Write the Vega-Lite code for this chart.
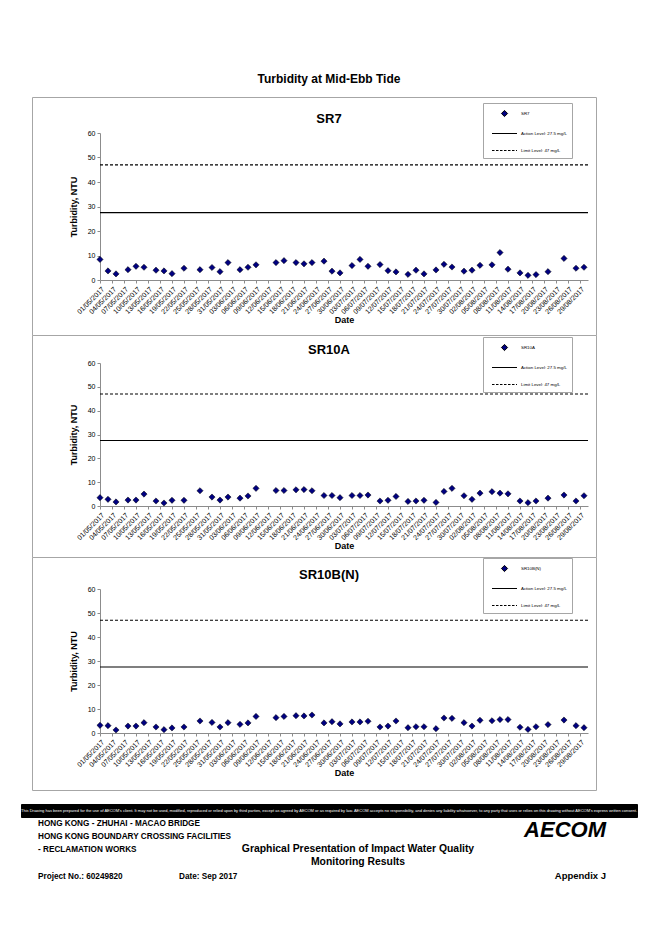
{
  "$schema": "https://vega.github.io/schema/vega-lite/v6.json",
  "padding": {"left": 20, "top": 72, "right": 0, "bottom": 0},
  "title": {"text": "Turbidity at Mid-Ebb Tide", "anchor": "middle", "offset": 11, "fontSize": 12, "fontWeight": "bold", "font": "Liberation Sans", "color": "black"},
  "config": {
    "view": {"stroke": null},
    "font": "Liberation Sans",
    "title": {"font": "Liberation Sans", "color": "black", "fontWeight": "bold"},
    "axis": {"labelFont": "Liberation Sans", "labelFontSize": 7, "labelColor": "black", "domainColor": "#8c8c8c", "tickColor": "#8c8c8c", "tickSize": 3, "grid": false, "titleFont": "Liberation Sans", "titleFontSize": 9, "titleFontWeight": "bold", "titleColor": "black", "labelPadding": 2, "labelOverlap": false}
  },
  "datasets": {
    "wq": [
      {"date":"2017-05-01","SR7":8.4,"SR10A":3.5,"SR10B(N)":3.2},
      {"date":"2017-05-03","SR7":3.7,"SR10A":2.8,"SR10B(N)":3.05},
      {"date":"2017-05-05","SR7":2.5,"SR10A":1.7,"SR10B(N)":1.25},
      {"date":"2017-05-08","SR7":4.2,"SR10A":2.5,"SR10B(N)":2.9},
      {"date":"2017-05-10","SR7":5.6,"SR10A":2.5,"SR10B(N)":2.9},
      {"date":"2017-05-12","SR7":5.2,"SR10A":5.0,"SR10B(N)":4.3},
      {"date":"2017-05-15","SR7":4.0,"SR10A":2.1,"SR10B(N)":2.5},
      {"date":"2017-05-17","SR7":3.7,"SR10A":1.25,"SR10B(N)":1.4},
      {"date":"2017-05-19","SR7":2.6,"SR10A":2.4,"SR10B(N)":2.1},
      {"date":"2017-05-22","SR7":4.8,"SR10A":2.4,"SR10B(N)":2.5},
      {"date":"2017-05-26","SR7":4.2,"SR10A":6.4,"SR10B(N)":5.0},
      {"date":"2017-05-29","SR7":5.1,"SR10A":3.75,"SR10B(N)":4.4},
      {"date":"2017-05-31","SR7":3.4,"SR10A":2.5,"SR10B(N)":2.5},
      {"date":"2017-06-02","SR7":7.1,"SR10A":3.75,"SR10B(N)":4.3},
      {"date":"2017-06-05","SR7":4.2,"SR10A":3.3,"SR10B(N)":3.6},
      {"date":"2017-06-07","SR7":5.2,"SR10A":4.2,"SR10B(N)":4.2},
      {"date":"2017-06-09","SR7":6.2,"SR10A":7.4,"SR10B(N)":6.9},
      {"date":"2017-06-14","SR7":7.1,"SR10A":6.5,"SR10B(N)":6.4},
      {"date":"2017-06-16","SR7":7.9,"SR10A":6.5,"SR10B(N)":6.9},
      {"date":"2017-06-19","SR7":7.1,"SR10A":6.8,"SR10B(N)":7.2},
      {"date":"2017-06-21","SR7":6.6,"SR10A":6.9,"SR10B(N)":7.1},
      {"date":"2017-06-23","SR7":7.1,"SR10A":6.4,"SR10B(N)":7.5},
      {"date":"2017-06-26","SR7":7.7,"SR10A":4.4,"SR10B(N)":4.2},
      {"date":"2017-06-28","SR7":3.6,"SR10A":4.4,"SR10B(N)":4.7},
      {"date":"2017-06-30","SR7":2.9,"SR10A":3.5,"SR10B(N)":3.8},
      {"date":"2017-07-03","SR7":5.9,"SR10A":4.4,"SR10B(N)":4.6},
      {"date":"2017-07-05","SR7":8.4,"SR10A":4.4,"SR10B(N)":4.6},
      {"date":"2017-07-07","SR7":5.6,"SR10A":4.6,"SR10B(N)":4.9},
      {"date":"2017-07-10","SR7":6.3,"SR10A":2.1,"SR10B(N)":2.5},
      {"date":"2017-07-12","SR7":3.8,"SR10A":2.4,"SR10B(N)":2.9},
      {"date":"2017-07-14","SR7":3.3,"SR10A":4.0,"SR10B(N)":5.0},
      {"date":"2017-07-17","SR7":2.3,"SR10A":1.9,"SR10B(N)":2.2},
      {"date":"2017-07-19","SR7":4.0,"SR10A":2.1,"SR10B(N)":2.6},
      {"date":"2017-07-21","SR7":2.5,"SR10A":2.4,"SR10B(N)":2.6},
      {"date":"2017-07-24","SR7":4.1,"SR10A":1.5,"SR10B(N)":1.8},
      {"date":"2017-07-26","SR7":6.4,"SR10A":6.1,"SR10B(N)":6.25},
      {"date":"2017-07-28","SR7":5.3,"SR10A":7.4,"SR10B(N)":6.1},
      {"date":"2017-07-31","SR7":3.6,"SR10A":4.3,"SR10B(N)":4.3},
      {"date":"2017-08-02","SR7":4.0,"SR10A":2.8,"SR10B(N)":2.9},
      {"date":"2017-08-04","SR7":6.0,"SR10A":5.4,"SR10B(N)":5.3},
      {"date":"2017-08-07","SR7":6.2,"SR10A":6.0,"SR10B(N)":5.1},
      {"date":"2017-08-09","SR7":11.2,"SR10A":5.4,"SR10B(N)":5.6},
      {"date":"2017-08-11","SR7":4.4,"SR10A":5.1,"SR10B(N)":5.6},
      {"date":"2017-08-14","SR7":2.9,"SR10A":2.1,"SR10B(N)":2.4},
      {"date":"2017-08-16","SR7":1.9,"SR10A":1.4,"SR10B(N)":1.5},
      {"date":"2017-08-18","SR7":2.2,"SR10A":2.1,"SR10B(N)":2.6},
      {"date":"2017-08-21","SR7":3.4,"SR10A":3.3,"SR10B(N)":3.5},
      {"date":"2017-08-25","SR7":8.8,"SR10A":4.6,"SR10B(N)":5.4},
      {"date":"2017-08-28","SR7":4.8,"SR10A":2.1,"SR10B(N)":3.05},
      {"date":"2017-08-30","SR7":5.2,"SR10A":4.3,"SR10B(N)":2.2}
    ],
    "levels": [
      {"level": "Action", "turbidity": 27.5, "date": "2017-05-01"},
      {"level": "Action", "turbidity": 27.5, "date": "2017-08-31"},
      {"level": "Limit", "turbidity": 47, "date": "2017-05-01"},
      {"level": "Limit", "turbidity": 47, "date": "2017-08-31"}
    ]
  },
  "spacing": 12,
  "vconcat": [
    {
      "spacing": 9,
      "hconcat": [
        {"width": 1, "height": 1, "data": {"values": []}, "mark": {"type": "point"}, "encoding": {}},
        {
          "spacing": 0,
          "bounds": "flush",
          "resolve": {"scale": {"shape": "independent"}, "legend": {"shape": "independent"}},
          "vconcat": [
            {
              "width": 564, "height": 238,
              "view": {"stroke": "#a6a6a6", "fill": "white"},
              "title": {"text": "SR7", "frame": "group", "anchor": "middle", "offset": -29.4, "dx": 15, "fontSize": 13},
              "layer": [
                {
                  "data": {"name": "levels"},
                  "mark": {"type": "line", "color": "black", "strokeWidth": 1.1},
                  "encoding": {
                    "x": {"field": "date", "type": "temporal", "title": "Date"},
                    "y": {"field": "turbidity", "type": "quantitative", "title": "Turbidity, NTU"},
                    "strokeDash": {"field": "level", "type": "nominal", "scale": {"domain": ["Action", "Limit"], "range": [[1, 0], [3, 2]]}, "legend": null}
                  }
                },
                {
                  "data": {"name": "wq"},
                  "transform": [{"fold": ["SR7"], "as": ["station", "turbidity"]}],
                  "mark": {"type": "point", "filled": true, "fill": "#000080", "stroke": "black", "strokeWidth": 0.5, "opacity": 1, "size": 100},
                  "encoding": {
                    "x": {"field": "date", "type": "temporal", "title": "Date",
                      "scale": {"type": "utc", "domain": [{"year": 2017, "month": 5, "date": 1, "utc": true}, {"year": 2017, "month": 8, "date": 31, "utc": true}], "range": [68, 556], "nice": false},
                      "axis": {"orient": "bottom", "offset": -55, "format": "%d/%m/%Y", "labelAngle": -45, "labelOverlap": false, "labelFlush": false, "titlePadding": 1, "tickCount": 41,
                        "values": [{"year":2017,"month":5,"date":1,"utc":true},{"year":2017,"month":5,"date":4,"utc":true},{"year":2017,"month":5,"date":7,"utc":true},{"year":2017,"month":5,"date":10,"utc":true},{"year":2017,"month":5,"date":13,"utc":true},{"year":2017,"month":5,"date":16,"utc":true},{"year":2017,"month":5,"date":19,"utc":true},{"year":2017,"month":5,"date":22,"utc":true},{"year":2017,"month":5,"date":25,"utc":true},{"year":2017,"month":5,"date":28,"utc":true},{"year":2017,"month":5,"date":31,"utc":true},{"year":2017,"month":6,"date":3,"utc":true},{"year":2017,"month":6,"date":6,"utc":true},{"year":2017,"month":6,"date":9,"utc":true},{"year":2017,"month":6,"date":12,"utc":true},{"year":2017,"month":6,"date":15,"utc":true},{"year":2017,"month":6,"date":18,"utc":true},{"year":2017,"month":6,"date":21,"utc":true},{"year":2017,"month":6,"date":24,"utc":true},{"year":2017,"month":6,"date":27,"utc":true},{"year":2017,"month":6,"date":30,"utc":true},{"year":2017,"month":7,"date":3,"utc":true},{"year":2017,"month":7,"date":6,"utc":true},{"year":2017,"month":7,"date":9,"utc":true},{"year":2017,"month":7,"date":12,"utc":true},{"year":2017,"month":7,"date":15,"utc":true},{"year":2017,"month":7,"date":18,"utc":true},{"year":2017,"month":7,"date":21,"utc":true},{"year":2017,"month":7,"date":24,"utc":true},{"year":2017,"month":7,"date":27,"utc":true},{"year":2017,"month":7,"date":30,"utc":true},{"year":2017,"month":8,"date":2,"utc":true},{"year":2017,"month":8,"date":5,"utc":true},{"year":2017,"month":8,"date":8,"utc":true},{"year":2017,"month":8,"date":11,"utc":true},{"year":2017,"month":8,"date":14,"utc":true},{"year":2017,"month":8,"date":17,"utc":true},{"year":2017,"month":8,"date":20,"utc":true},{"year":2017,"month":8,"date":23,"utc":true},{"year":2017,"month":8,"date":26,"utc":true},{"year":2017,"month":8,"date":29,"utc":true}]}},
                    "y": {"field": "turbidity", "type": "quantitative", "title": "Turbidity, NTU",
                      "scale": {"domain": [0, 60], "range": [183, 36], "nice": false, "zero": false},
                      "axis": {"orient": "left", "offset": -68, "values": [0, 10, 20, 30, 40, 50, 60], "tickCount": 7, "format": "d", "titlePadding": 9, "labelOverlap": false}},
                    "shape": {"field": "station", "type": "nominal",
                      "scale": {"domain": ["SR7", "Action Level: 27.5 mg/L", "Limit Level: 47 mg/L"], "range": ["M0,-0.62L0.62,0L0,0.62L-0.62,0Z", "M-2.5,0L2.5,0", "M-2.5,0L-2,0M-1.7,0L-1.2,0M-0.9,0L-0.4,0M-0.1,0L0.4,0M0.7,0L1.2,0M1.5,0L2,0M2.3,0L2.5,0"]},
                      "legend": {"title": null, "orient": "none", "legendX": 451, "legendY": 6, "padding": 5, "symbolSize": 100, "symbolOffset": 11, "labelOffset": 11, "rowPadding": 9, "labelFontSize": 4.4, "labelFont": "Liberation Sans", "labelColor": "black", "strokeColor": "#a6a6a6", "fillColor": "white", "symbolStrokeWidth": 1}}
                  }
                }
              ]
            },
            {
              "width": 564, "height": 222,
              "view": {"stroke": "#a6a6a6", "fill": "white"},
              "title": {"text": "SR10A", "frame": "group", "anchor": "middle", "offset": -22.4, "dx": 15, "fontSize": 13},
              "layer": [
                {
                  "data": {"name": "levels"},
                  "mark": {"type": "line", "color": "black", "strokeWidth": 1.1},
                  "encoding": {
                    "x": {"field": "date", "type": "temporal", "title": "Date"},
                    "y": {"field": "turbidity", "type": "quantitative", "title": "Turbidity, NTU"},
                    "strokeDash": {"field": "level", "type": "nominal", "scale": {"domain": ["Action", "Limit"], "range": [[1, 0], [3, 2]]}, "legend": null}
                  }
                },
                {
                  "data": {"name": "wq"},
                  "transform": [{"fold": ["SR10A"], "as": ["station", "turbidity"]}],
                  "mark": {"type": "point", "filled": true, "fill": "#000080", "stroke": "black", "strokeWidth": 0.5, "opacity": 1, "size": 100},
                  "encoding": {
                    "x": {"field": "date", "type": "temporal", "title": "Date",
                      "scale": {"type": "utc", "domain": [{"year": 2017, "month": 5, "date": 1, "utc": true}, {"year": 2017, "month": 8, "date": 31, "utc": true}], "range": [68, 556], "nice": false},
                      "axis": {"orient": "bottom", "offset": -51, "format": "%d/%m/%Y", "labelAngle": -45, "labelOverlap": false, "labelFlush": false, "titlePadding": 1, "tickCount": 41,
                        "values": [{"year":2017,"month":5,"date":1,"utc":true},{"year":2017,"month":5,"date":4,"utc":true},{"year":2017,"month":5,"date":7,"utc":true},{"year":2017,"month":5,"date":10,"utc":true},{"year":2017,"month":5,"date":13,"utc":true},{"year":2017,"month":5,"date":16,"utc":true},{"year":2017,"month":5,"date":19,"utc":true},{"year":2017,"month":5,"date":22,"utc":true},{"year":2017,"month":5,"date":25,"utc":true},{"year":2017,"month":5,"date":28,"utc":true},{"year":2017,"month":5,"date":31,"utc":true},{"year":2017,"month":6,"date":3,"utc":true},{"year":2017,"month":6,"date":6,"utc":true},{"year":2017,"month":6,"date":9,"utc":true},{"year":2017,"month":6,"date":12,"utc":true},{"year":2017,"month":6,"date":15,"utc":true},{"year":2017,"month":6,"date":18,"utc":true},{"year":2017,"month":6,"date":21,"utc":true},{"year":2017,"month":6,"date":24,"utc":true},{"year":2017,"month":6,"date":27,"utc":true},{"year":2017,"month":6,"date":30,"utc":true},{"year":2017,"month":7,"date":3,"utc":true},{"year":2017,"month":7,"date":6,"utc":true},{"year":2017,"month":7,"date":9,"utc":true},{"year":2017,"month":7,"date":12,"utc":true},{"year":2017,"month":7,"date":15,"utc":true},{"year":2017,"month":7,"date":18,"utc":true},{"year":2017,"month":7,"date":21,"utc":true},{"year":2017,"month":7,"date":24,"utc":true},{"year":2017,"month":7,"date":27,"utc":true},{"year":2017,"month":7,"date":30,"utc":true},{"year":2017,"month":8,"date":2,"utc":true},{"year":2017,"month":8,"date":5,"utc":true},{"year":2017,"month":8,"date":8,"utc":true},{"year":2017,"month":8,"date":11,"utc":true},{"year":2017,"month":8,"date":14,"utc":true},{"year":2017,"month":8,"date":17,"utc":true},{"year":2017,"month":8,"date":20,"utc":true},{"year":2017,"month":8,"date":23,"utc":true},{"year":2017,"month":8,"date":26,"utc":true},{"year":2017,"month":8,"date":29,"utc":true}]}},
                    "y": {"field": "turbidity", "type": "quantitative", "title": "Turbidity, NTU",
                      "scale": {"domain": [0, 60], "range": [171, 28], "nice": false, "zero": false},
                      "axis": {"orient": "left", "offset": -68, "values": [0, 10, 20, 30, 40, 50, 60], "tickCount": 7, "format": "d", "titlePadding": 9, "labelOverlap": false}},
                    "shape": {"field": "station", "type": "nominal",
                      "scale": {"domain": ["SR10A", "Action Level: 27.5 mg/L", "Limit Level: 47 mg/L"], "range": ["M0,-0.62L0.62,0L0,0.62L-0.62,0Z", "M-2.5,0L2.5,0", "M-2.5,0L-2,0M-1.7,0L-1.2,0M-0.9,0L-0.4,0M-0.1,0L0.4,0M0.7,0L1.2,0M1.5,0L2,0M2.3,0L2.5,0"]},
                      "legend": {"title": null, "orient": "none", "legendX": 451, "legendY": 2, "padding": 5, "symbolSize": 100, "symbolOffset": 11, "labelOffset": 11, "rowPadding": 9, "labelFontSize": 4.4, "labelFont": "Liberation Sans", "labelColor": "black", "strokeColor": "#a6a6a6", "fillColor": "white", "symbolStrokeWidth": 1}}
                  }
                }
              ]
            },
            {
              "width": 564, "height": 233,
              "view": {"stroke": "#a6a6a6", "fill": "white"},
              "title": {"text": "SR10B(N)", "frame": "group", "anchor": "middle", "offset": -25.4, "dx": 15, "fontSize": 13},
              "layer": [
                {
                  "data": {"name": "levels"},
                  "mark": {"type": "line", "color": "black", "strokeWidth": 1.1},
                  "encoding": {
                    "x": {"field": "date", "type": "temporal", "title": "Date"},
                    "y": {"field": "turbidity", "type": "quantitative", "title": "Turbidity, NTU"},
                    "strokeDash": {"field": "level", "type": "nominal", "scale": {"domain": ["Action", "Limit"], "range": [[1, 0], [3, 2]]}, "legend": null}
                  }
                },
                {
                  "data": {"name": "wq"},
                  "transform": [{"fold": ["SR10B(N)"], "as": ["station", "turbidity"]}],
                  "mark": {"type": "point", "filled": true, "fill": "#000080", "stroke": "black", "strokeWidth": 0.5, "opacity": 1, "size": 100},
                  "encoding": {
                    "x": {"field": "date", "type": "temporal", "title": "Date",
                      "scale": {"type": "utc", "domain": [{"year": 2017, "month": 5, "date": 1, "utc": true}, {"year": 2017, "month": 8, "date": 31, "utc": true}], "range": [68, 556], "nice": false},
                      "axis": {"orient": "bottom", "offset": -57, "format": "%d/%m/%Y", "labelAngle": -45, "labelOverlap": false, "labelFlush": false, "titlePadding": 1, "tickCount": 41,
                        "values": [{"year":2017,"month":5,"date":1,"utc":true},{"year":2017,"month":5,"date":4,"utc":true},{"year":2017,"month":5,"date":7,"utc":true},{"year":2017,"month":5,"date":10,"utc":true},{"year":2017,"month":5,"date":13,"utc":true},{"year":2017,"month":5,"date":16,"utc":true},{"year":2017,"month":5,"date":19,"utc":true},{"year":2017,"month":5,"date":22,"utc":true},{"year":2017,"month":5,"date":25,"utc":true},{"year":2017,"month":5,"date":28,"utc":true},{"year":2017,"month":5,"date":31,"utc":true},{"year":2017,"month":6,"date":3,"utc":true},{"year":2017,"month":6,"date":6,"utc":true},{"year":2017,"month":6,"date":9,"utc":true},{"year":2017,"month":6,"date":12,"utc":true},{"year":2017,"month":6,"date":15,"utc":true},{"year":2017,"month":6,"date":18,"utc":true},{"year":2017,"month":6,"date":21,"utc":true},{"year":2017,"month":6,"date":24,"utc":true},{"year":2017,"month":6,"date":27,"utc":true},{"year":2017,"month":6,"date":30,"utc":true},{"year":2017,"month":7,"date":3,"utc":true},{"year":2017,"month":7,"date":6,"utc":true},{"year":2017,"month":7,"date":9,"utc":true},{"year":2017,"month":7,"date":12,"utc":true},{"year":2017,"month":7,"date":15,"utc":true},{"year":2017,"month":7,"date":18,"utc":true},{"year":2017,"month":7,"date":21,"utc":true},{"year":2017,"month":7,"date":24,"utc":true},{"year":2017,"month":7,"date":27,"utc":true},{"year":2017,"month":7,"date":30,"utc":true},{"year":2017,"month":8,"date":2,"utc":true},{"year":2017,"month":8,"date":5,"utc":true},{"year":2017,"month":8,"date":8,"utc":true},{"year":2017,"month":8,"date":11,"utc":true},{"year":2017,"month":8,"date":14,"utc":true},{"year":2017,"month":8,"date":17,"utc":true},{"year":2017,"month":8,"date":20,"utc":true},{"year":2017,"month":8,"date":23,"utc":true},{"year":2017,"month":8,"date":26,"utc":true},{"year":2017,"month":8,"date":29,"utc":true}]}},
                    "y": {"field": "turbidity", "type": "quantitative", "title": "Turbidity, NTU",
                      "scale": {"domain": [0, 60], "range": [176, 32], "nice": false, "zero": false},
                      "axis": {"orient": "left", "offset": -68, "values": [0, 10, 20, 30, 40, 50, 60], "tickCount": 7, "format": "d", "titlePadding": 9, "labelOverlap": false}},
                    "shape": {"field": "station", "type": "nominal",
                      "scale": {"domain": ["SR10B(N)", "Action Level: 27.5 mg/L", "Limit Level: 47 mg/L"], "range": ["M0,-0.62L0.62,0L0,0.62L-0.62,0Z", "M-2.5,0L2.5,0", "M-2.5,0L-2,0M-1.7,0L-1.2,0M-0.9,0L-0.4,0M-0.1,0L0.4,0M0.7,0L1.2,0M1.5,0L2,0M2.3,0L2.5,0"]},
                      "legend": {"title": null, "orient": "none", "legendX": 451, "legendY": 1, "padding": 5, "symbolSize": 100, "symbolOffset": 11, "labelOffset": 11, "rowPadding": 9, "labelFontSize": 4.4, "labelFont": "Liberation Sans", "labelColor": "black", "strokeColor": "#a6a6a6", "fillColor": "white", "symbolStrokeWidth": 1}}
                  }
                }
              ]
            }
          ]
        }
      ]
    },
    {
      "spacing": 0,
      "vconcat": [
        {
          "width": 616, "height": 13,
          "view": {"fill": "black", "stroke": "black"},
          "title": {"text": "This Drawing has been prepared for the use of AECOM's client. It may not be used, modified, reproduced or relied upon by third parties, except as agreed by AECOM or as required by law. AECOM accepts no responsibility, and denies any liability whatsoever, to any party that uses or relies on this drawing without AECOM's express written consent.", "orient": "bottom", "frame": "group", "anchor": "middle", "offset": -8.3, "fontSize": 4.0, "fontWeight": "normal", "color": "white", "baseline": "top"},
          "data": {"values": []},
          "mark": {"type": "point"},
          "encoding": {}
        },
        {
          "spacing": 0,
          "bounds": "flush",
          "hconcat": [
            {
              "width": 158, "height": 1,
              "data": {"values": []}, "mark": {"type": "point"}, "encoding": {},
              "title": {"text": ["HONG KONG - ZHUHAI - MACAO BRIDGE", "HONG KONG BOUNDARY CROSSING FACILITIES", "- RECLAMATION WORKS"], "subtitle": "Project No.: 60249820", "orient": "bottom", "frame": "group", "anchor": "start", "dx": 17, "offset": -2.5, "fontSize": 8.2, "lineHeight": 13.25, "baseline": "top", "subtitleFont": "Liberation Sans", "subtitleFontSize": 8.2, "subtitleFontWeight": "bold", "subtitleColor": "black", "subtitlePadding": 18.3}
            },
            {
              "width": 100, "height": 1,
              "data": {"values": []}, "mark": {"type": "point"}, "encoding": {},
              "title": {"text": "Date: Sep 2017", "orient": "bottom", "frame": "group", "anchor": "start", "offset": 51, "fontSize": 8.2, "baseline": "top"}
            },
            {
              "width": 158, "height": 1,
              "data": {"values": []}, "mark": {"type": "point"}, "encoding": {},
              "title": {"text": ["Graphical Presentation of Impact Water Quality", "Monitoring Results"], "orient": "bottom", "frame": "group", "anchor": "middle", "offset": 21.5, "fontSize": 10.4, "lineHeight": 13.5, "baseline": "top"}
            },
            {
              "width": 169, "height": 1,
              "data": {"values": []}, "mark": {"type": "point"}, "encoding": {},
              "title": {"text": "AECOM", "subtitle": "Appendix J", "orient": "bottom", "frame": "group", "anchor": "end", "offset": -2.5, "fontSize": 22, "fontStyle": "italic", "fontWeight": "bold", "baseline": "top", "subtitleFontSize": 9.5, "subtitleFontWeight": "bold", "subtitleColor": "black", "subtitleFont": "Liberation Sans", "subtitlePadding": 29}
            }
          ]
        }
      ]
    }
  ]
}
